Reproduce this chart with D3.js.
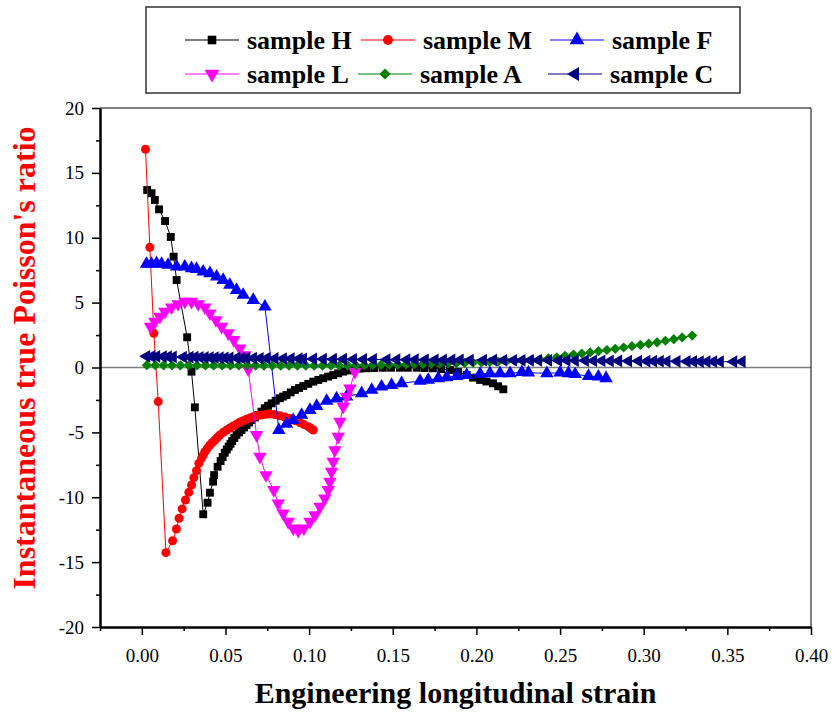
<!DOCTYPE html>
<html><head><meta charset="utf-8">
<script src="https://cdn.jsdelivr.net/npm/d3@7"></script>
<style>body{margin:0;background:#fff}svg{display:block}</style>
</head><body>
<svg id="chart" width="834" height="718"></svg>
<script>
// ---------- data ----------
const seriesNames = ["sample H","sample M","sample F","sample L","sample A","sample C"];
const seriesColors = ["#000000","#ff0000","#0000ff","#ff00ff","#008000","#000080"];
const xTickValues = [0,0.05,0.10,0.15,0.20,0.25,0.30,0.35,0.40];
const yTickValues = [-20,-15,-10,-5,0,5,10,15,20];
const xLabel = "Engineering longitudinal strain";
const yLabel = "Instantaneous true Poisson's ratio";

const hStrain = [0.0032,0.0058,0.0078,0.0103,0.0139,0.0173,0.0190,0.0208,0.0271,0.0297,0.0317,0.0367,
 0.0393,0.0407,0.0426,0.0432,0.0453,0.0471,0.0483,0.0496,0.0508,0.0519,0.0530,0.0540,0.0553,0.0566,0.0581,0.0596,
 0.0611,0.0626,0.0641,0.0656,0.0676,0.0696,0.0715,0.0735,0.0755,0.0776,0.0800,0.0825,0.0845,0.0865,0.0890,0.0915,
 0.0940,0.0965,0.0995,0.1025,0.1055,0.1084,0.1114,0.1144,0.1174,0.1204,0.1234,0.1264,0.1300,0.1344,0.1390,0.1441,
 0.1490,0.1543,0.1590,0.1643,0.1690,0.1740,0.1790,0.1842,0.1890,0.1942,0.1980,0.2022,0.2060,0.2099,0.2130,0.2161];
const hValue = [13.68,13.43,12.91,12.19,11.29,10.06,8.54,6.74,2.33,-0.32,-3.07,-11.31,
 -10.42,-9.65,-8.80,-8.29,-7.65,-7.21,-6.90,-6.57,-6.32,-6.10,-5.88,-5.67,-5.43,-5.20,-5.00,-4.82,
 -4.62,-4.43,-4.24,-4.05,-3.85,-3.66,-3.40,-3.14,-2.95,-2.76,-2.56,-2.37,-2.24,-2.12,-1.92,-1.73,
 -1.58,-1.43,-1.26,-1.09,-0.96,-0.83,-0.70,-0.58,-0.45,-0.32,-0.23,-0.14,-0.09,-0.06,-0.04,-0.02,
 -0.02,-0.02,-0.02,-0.02,-0.04,-0.06,-0.12,-0.19,-0.35,-0.58,-0.78,-0.96,-1.08,-1.22,-1.45,-1.68];

const mStrain = [0.0022,0.0048,0.0072,0.0098,0.0144,0.0184,0.0207,0.0223,0.0241,0.0261,0.0281,0.0297,0.0311,
 0.0327,0.0341,0.0357,0.0367,0.0377,0.0392,0.0407,0.0422,0.0437,0.0452,0.0467,0.0487,0.0507,0.0527,0.0546,0.0566,
 0.0586,0.0606,0.0626,0.0646,0.0666,0.0691,0.0716,0.0741,0.0766,0.0795,0.0825,0.0855,0.0885,0.0915,0.0945,0.0970,
 0.0995,0.1010,0.1025];
const mValue = [16.82,9.26,2.64,-2.63,-14.27,-13.35,-12.45,-11.62,-10.90,-10.21,-9.62,-9.06,-8.49,
 -7.95,-7.38,-7.00,-6.75,-6.49,-6.22,-5.97,-5.78,-5.59,-5.40,-5.20,-5.00,-4.82,-4.66,-4.51,-4.36,
 -4.22,-4.10,-3.99,-3.89,-3.79,-3.72,-3.66,-3.61,-3.58,-3.62,-3.72,-3.82,-3.92,-4.08,-4.25,-4.40,
 -4.56,-4.68,-4.82];

const fStrain = [0.0028,0.0058,0.0088,0.0118,0.0157,0.0208,0.0257,0.0297,0.0327,0.0367,0.0407,0.0447,0.0486,
 0.0526,0.0566,0.0606,0.0666,0.0736,0.0819,0.0865,0.0905,0.0955,0.1005,0.1045,0.1105,0.1164,0.1224,0.1314,0.1374,
 0.1433,0.1493,0.1553,0.1663,0.1712,0.1772,0.1822,0.1882,0.1942,0.2022,0.2081,0.2141,0.2201,0.2271,0.2311,0.2421,
 0.2500,0.2550,0.2590,0.2670,0.2729,0.2775];
const fValue = [7.98,7.98,8.03,7.98,7.90,7.77,7.77,7.64,7.59,7.38,7.26,7.00,6.74,
 6.36,5.97,5.59,5.20,4.69,-4.82,-4.35,-4.05,-3.66,-3.28,-2.97,-2.58,-2.39,-2.25,-1.99,-1.73,
 -1.48,-1.35,-1.22,-1.04,-0.96,-0.83,-0.76,-0.66,-0.58,-0.50,-0.45,-0.45,-0.45,-0.35,-0.40,-0.45,
 -0.40,-0.45,-0.52,-0.66,-0.71,-0.83];

const lStrain = [0.0052,0.0078,0.0108,0.0138,0.0178,0.0217,0.0257,0.0297,0.0337,0.0377,0.0407,0.0443,0.0477,
 0.0516,0.0550,0.0586,0.0616,0.0636,0.0686,0.0706,0.0742,0.0789,0.0815,0.0845,0.0875,0.0905,0.0935,0.0969,0.1005,
 0.1035,0.1065,0.1094,0.1114,0.1124,0.1134,0.1144,0.1154,0.1174,0.1184,0.1204,0.1224,0.1244,0.1274];
const lValue = [3.15,3.53,3.92,4.30,4.64,4.89,5.07,5.07,4.89,4.64,4.18,3.66,3.15,
 2.64,2.12,1.48,0.96,-0.14,-5.20,-6.87,-8.29,-9.44,-10.47,-11.24,-11.88,-12.39,-12.58,-12.39,-11.88,
 -11.37,-10.73,-10.08,-9.44,-8.80,-8.03,-7.26,-6.36,-5.33,-4.18,-3.02,-2.25,-1.60,-0.32];

const aStrain = [0.003,0.008,0.013,0.018,0.023,0.028,0.033,0.038,0.043,0.048,0.053,0.058,0.063,0.068,0.073,0.078,
 0.083,0.088,0.093,0.098,0.103,0.108,0.113,0.118,0.123,0.128,0.133,0.138,0.143,0.148,0.153,0.158,0.163,0.168,0.173,
 0.178,0.183,0.188,0.193,0.198,0.203,0.208,0.213,0.218,0.223,0.228,0.233,0.238,0.243,0.248,0.253,0.258,0.263,0.268,
 0.273,0.278,0.283,0.288,0.293,0.298,0.303,0.308,0.313,0.318,0.323,0.329];
const aValue = [0.18,0.18,0.17,0.17,0.17,0.17,0.16,0.16,0.16,0.16,0.16,0.16,0.15,0.15,0.15,0.15,
 0.15,0.15,0.15,0.15,0.15,0.15,0.15,0.15,0.16,0.17,0.18,0.19,0.20,0.21,0.22,0.23,0.25,0.26,0.28,
 0.29,0.31,0.33,0.35,0.37,0.39,0.42,0.45,0.48,0.51,0.55,0.58,0.63,0.70,0.78,0.90,1.00,1.08,1.16,
 1.26,1.35,1.44,1.54,1.64,1.74,1.84,1.94,2.06,2.18,2.32,2.46];

const cStrain = [0.0028,0.0058,0.0088,0.0127,0.0157,0.0187,0.0247,0.0287,0.0317,0.0347,0.0377,0.0407,0.0437,
 0.0467,0.0496,0.0526,0.0566,0.0596,0.0626,0.0666,0.0706,0.0746,0.0795,0.0845,0.0891,0.0939,0.0965,0.1025,0.1084,
 0.1144,0.1204,0.1264,0.1324,0.1383,0.1464,0.1523,0.1583,0.1633,0.1693,0.1752,0.1802,0.1852,0.1902,0.1962,0.2041,
 0.2101,0.2161,0.2221,0.2271,0.2321,0.2370,0.2430,0.2490,0.2540,0.2590,0.2650,0.2699,0.2749,0.2799,0.2849,0.2908,
 0.2968,0.3018,0.3058,0.3098,0.3138,0.3198,0.3258,0.3297,0.3337,0.3377,0.3417,0.3457,0.3537,0.3587];
const cValue = [0.86,0.85,0.85,0.84,0.83,0.82,0.81,0.80,0.80,0.79,0.78,0.77,0.76,
 0.76,0.75,0.75,0.74,0.73,0.73,0.72,0.71,0.71,0.70,0.69,0.69,0.68,0.67,0.66,0.65,
 0.64,0.64,0.63,0.62,0.62,0.61,0.60,0.60,0.60,0.59,0.59,0.58,0.58,0.58,0.57,0.57,
 0.57,0.56,0.56,0.56,0.55,0.55,0.55,0.54,0.54,0.53,0.53,0.52,0.52,0.51,0.51,0.50,
 0.50,0.49,0.49,0.49,0.48,0.48,0.47,0.47,0.46,0.46,0.46,0.45,0.45,0.45];

const allStrain = [hStrain,mStrain,fStrain,lStrain,aStrain,cStrain];
const allValue = [hValue,mValue,fValue,lValue,aValue,cValue];

// ---------- layout ----------
const svg = d3.select("#chart");
const serif = "'Liberation Serif','Times New Roman',serif";
const x = d3.scaleLinear().domain([-0.025, 0.40]).range([100, 811]);
const y = d3.scaleLinear().domain([-20, 20]).range([627, 108]);

// symbols
const symDefs = [
  {type: d3.symbolSquare, size: 62, rot: 0},
  {type: d3.symbolCircle, size: 64, rot: 0},
  {type: d3.symbolTriangle, size: 78, rot: 0},
  {type: d3.symbolTriangle, size: 78, rot: 180},
  {type: d3.symbolSquare, size: 52, rot: 45},
  {type: d3.symbolTriangle, size: 70, rot: -90}
];

// zero line
svg.append("line").attr("x1", x(-0.025)).attr("x2", x(0.40)).attr("y1", y(0)).attr("y2", y(0))
  .attr("stroke", "#808080").attr("stroke-width", 1.5);

// series
const line = d3.line().x(d => x(d[0])).y(d => y(d[1]));
allStrain.forEach((xs, i) => {
  const pts = xs.map((s, j) => [s, allValue[i][j]]);
  const g = svg.append("g");
  g.append("path").datum(pts).attr("d", line).attr("fill", "none")
    .attr("stroke", seriesColors[i]).attr("stroke-width", 1);
  const sym = d3.symbol().type(symDefs[i].type).size(symDefs[i].size);
  g.selectAll("path.m").data(pts).join("path").attr("class", "m")
    .attr("d", sym)
    .attr("transform", d => `translate(${x(d[0])},${y(d[1])}) rotate(${symDefs[i].rot})`)
    .attr("fill", seriesColors[i]);
});

// axes
const xAxis = svg.append("g").attr("transform", `translate(0,${y(-20)})`)
  .call(d3.axisBottom(x).tickValues(xTickValues).tickFormat(d3.format(".2f")).tickSizeInner(8).tickSizeOuter(0).tickPadding(14));
const xMinor = svg.append("g").attr("transform", `translate(0,${y(-20)})`)
  .call(d3.axisBottom(x).tickValues([-0.025,0.025,0.075,0.125,0.175,0.225,0.275,0.325,0.375]).tickFormat("").tickSizeInner(4).tickSizeOuter(0));
const yAxis = svg.append("g").attr("transform", `translate(${x(-0.025)},0)`)
  .call(d3.axisLeft(y).tickValues(yTickValues).tickFormat(d => String(d)).tickSizeInner(8).tickSizeOuter(0).tickPadding(8));
const yMinor = svg.append("g").attr("transform", `translate(${x(-0.025)},0)`)
  .call(d3.axisLeft(y).tickValues([-17.5,-12.5,-7.5,-2.5,2.5,7.5,12.5,17.5]).tickFormat("").tickSizeInner(4).tickSizeOuter(0));
[xAxis, xMinor, yAxis, yMinor].forEach(a => {
  a.attr("font-family", null).attr("font-size", null);
  a.select(".domain").attr("stroke", "#000").attr("stroke-width", 2);
  a.selectAll(".tick line").attr("stroke", "#000").attr("stroke-width", 1.5);
  a.selectAll(".tick text").style("font-family", serif).style("font-size", "19px").attr("fill", "#000");
});
// top & right frame
svg.append("line").attr("x1", x(-0.025)).attr("x2", x(0.40)).attr("y1", y(20)).attr("y2", y(20))
  .attr("stroke", "#000").attr("stroke-width", 1);
svg.append("line").attr("x1", x(0.40)).attr("x2", x(0.40)).attr("y1", y(20)).attr("y2", y(-20))
  .attr("stroke", "#000").attr("stroke-width", 1);

// axis titles
svg.append("text").attr("x", (x(-0.025) + x(0.40)) / 2).attr("y", 703)
  .attr("text-anchor", "middle").style("font-family", serif).attr("font-weight", "bold")
  .style("font-size", "30px").attr("fill", "#000").text(xLabel);
svg.append("text").attr("transform", `translate(35,358) rotate(-90)`)
  .attr("text-anchor", "middle").style("font-family", serif).attr("font-weight", "bold")
  .style("font-size", "32px").attr("fill", "#ff0000").text(yLabel);

// legend
svg.append("rect").attr("x", 146).attr("y", 7).attr("width", 594).attr("height", 86)
  .attr("fill", "#fff").attr("stroke", "#333").attr("stroke-width", 1.5);
const legPos = [[185,40],[361,40],[550,40],[185,74],[358,74],[548,74]];
seriesNames.forEach((name, i) => {
  const [lx, ly] = legPos[i];
  const g = svg.append("g");
  g.append("line").attr("x1", lx).attr("x2", lx + 54).attr("y1", ly).attr("y2", ly)
    .attr("stroke", seriesColors[i]).attr("stroke-width", 1.2);
  g.append("path").attr("d", d3.symbol().type(symDefs[i].type).size(symDefs[i].size * 1.2)())
    .attr("transform", `translate(${lx + 27},${ly}) rotate(${symDefs[i].rot})`).attr("fill", seriesColors[i]);
  g.append("text").attr("x", lx + 62).attr("y", ly + 9).style("font-family", serif)
    .attr("font-weight", "bold").style("font-size", "26px").attr("fill", "#000").text(name);
});
</script>
</body></html>
